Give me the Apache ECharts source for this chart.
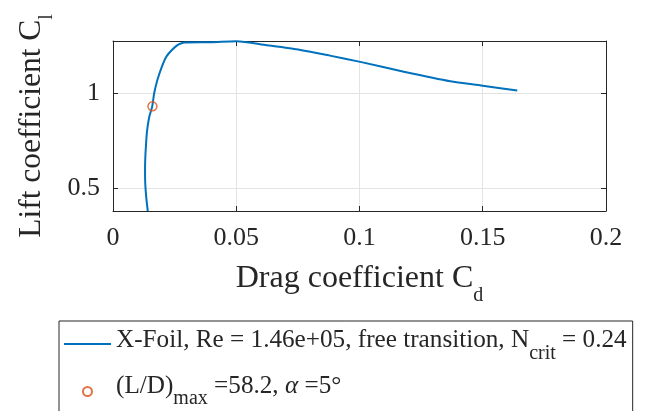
<!DOCTYPE html>
<html>
<head>
<meta charset="utf-8">
<script src="https://cdn.jsdelivr.net/npm/echarts@6/dist/echarts.min.js"></script>
<style>
  html, body { margin: 0; padding: 0; background: #fff; }
  #chart { width: 646px; height: 411px; }
</style>
</head>
<body>
<div id="chart"></div>
<script>
// Drag polar from X-Foil (Cd, Cl), ordered by angle of attack
const dragCoef = [0.0141, 0.0135, 0.0131, 0.0130, 0.0131, 0.0134, 0.0138, 0.0147, 0.0159,
  0.0167, 0.0180, 0.0198, 0.0215, 0.0238, 0.0260, 0.0275, 0.0292, 0.0400, 0.0500,
  0.0624, 0.0760, 0.0880, 0.1003, 0.1180, 0.1368, 0.1500, 0.1640];
const liftCoef = [0.380, 0.450, 0.520, 0.600, 0.660, 0.730, 0.800, 0.875, 0.930,
  1.000, 1.070, 1.139, 1.190, 1.226, 1.252, 1.262, 1.267, 1.269, 1.274,
  1.253, 1.228, 1.198, 1.165, 1.113, 1.063, 1.040, 1.014];

// Point of maximum lift-to-drag ratio
const bestCd = [0.0160];
const bestCl = [0.931];

const xTicks = [0, 0.05, 0.1, 0.15, 0.2];
const yTicks = [0.5, 1];

const polarName = 'polar';
const bestName = 'best';

const FONT = 'Liberation Serif';
const INK = '#262626';

const chart = echarts.init(document.getElementById('chart'));

const polarData = dragCoef.map((cd, i) => [cd, liftCoef[i]]);
const bestData = bestCd.map((cd, i) => [cd, bestCl[i]]);

const frameLine = { show: true, onZero: false, lineStyle: { color: INK, width: 1 } };
const xTick = { show: true, inside: true, length: 5, lineStyle: { color: INK }, customValues: xTicks };
const yTick = { show: true, inside: true, length: 5, lineStyle: { color: INK }, customValues: yTicks };
const gridLine = { show: true, lineStyle: { color: '#e3e3e3', width: 1 } };

chart.setOption({
  animation: false,
  backgroundColor: '#fff',
  grid: { left: 113, right: 40, top: 41, bottom: 200, containLabel: false },
  xAxis: [
    {
      type: 'value', position: 'bottom',
      min: 0, max: 0.2, interval: 0.05,
      axisLine: frameLine,
      axisTick: xTick,
      axisLabel: {
        show: true, margin: 14, color: INK, fontFamily: FONT, fontSize: 26,
        customValues: xTicks,
        formatter: v => String(+v.toFixed(4))
      },
      splitLine: gridLine,
      name: '{m|Drag coefficient C}{s|d}',
      nameLocation: 'middle',
      nameGap: 52,
      nameTextStyle: {
        color: INK, fontFamily: FONT, fontSize: 32,
        rich: {
          m: { fontFamily: FONT, fontSize: 32, color: INK, verticalAlign: 'top' },
          s: { fontFamily: FONT, fontSize: 20, color: INK, verticalAlign: 'top', padding: [23, 0, 0, 0] }
        }
      }
    },
    {
      type: 'value', position: 'top', min: 0, max: 0.2, interval: 0.05,
      axisLine: frameLine, axisTick: xTick, axisLabel: { show: false }, splitLine: { show: false }
    }
  ],
  yAxis: [
    {
      type: 'value', position: 'left',
      min: 0.38, max: 1.275,
      axisLine: frameLine,
      axisTick: yTick,
      axisLabel: {
        show: true, margin: 13, color: INK, fontFamily: FONT, fontSize: 26,
        customValues: yTicks,
        formatter: v => String(+v.toFixed(3))
      },
      splitLine: gridLine,
      name: '{m|Lift coefficient C}{s|l}',
      nameLocation: 'middle',
      nameGap: 56,
      nameTextStyle: {
        color: INK, fontFamily: FONT, fontSize: 31.5,
        rich: {
          m: { fontFamily: FONT, fontSize: 31.5, color: INK, verticalAlign: 'top' },
          s: { fontFamily: FONT, fontSize: 20, color: INK, verticalAlign: 'top', padding: [21, 0, 0, 0] }
        }
      }
    },
    {
      type: 'value', position: 'right', min: 0.38, max: 1.275,
      axisLine: frameLine, axisTick: yTick, axisLabel: { show: false }, splitLine: { show: false }
    }
  ],
  legend: {
    orient: 'vertical',
    left: 59, top: 321, height: 300,
    padding: [6.5, 6, 22, 4],
    itemWidth: 47, itemHeight: 9, itemGap: 10,
    borderColor: INK, borderWidth: 1, backgroundColor: '#fff',
    selectedMode: false,
    data: [
      { name: polarName, itemStyle: { opacity: 0 } },
      { name: bestName }
    ],
    formatter: function (name) {
      if (name === polarName) {
        return '{m|X-Foil, Re = 1.46e+05, free transition, N}{c|crit}{m| = 0.24}';
      }
      return '{m|(L/D)}{x|max}{m| =58.2, }{g|α}{m| =5°}';
    },
    textStyle: {
      color: INK, fontFamily: FONT, fontSize: 25.2,
      rich: {
        m: { fontFamily: FONT, fontSize: 25.2, color: INK, verticalAlign: 'top' },
        g: { fontFamily: FONT, fontSize: 25.2, color: INK, fontStyle: 'italic', verticalAlign: 'top' },
        c: { fontFamily: FONT, fontSize: 20, color: INK, verticalAlign: 'top', padding: [16.5, 0, 0, 0], lineHeight: 33 },
        x: { fontFamily: FONT, fontSize: 20, color: INK, verticalAlign: 'top', padding: [14.5, 0, 0, 0], lineHeight: 35 }
      }
    }
  },
  series: [
    {
      name: polarName,
      type: 'line',
      data: polarData,
      symbol: 'none',
      smooth: 0.25,
      lineStyle: { color: '#0072BD', width: 2 },
      itemStyle: { color: '#0072BD' },
      clip: false,
      z: 2
    },
    {
      name: bestName,
      type: 'scatter',
      data: bestData,
      symbol: 'circle',
      symbolSize: 9,
      itemStyle: { color: 'rgba(0,0,0,0)', borderColor: '#D95319', borderWidth: 1.5 },
      z: 3
    }
  ]
});
</script>
</body>
</html>
